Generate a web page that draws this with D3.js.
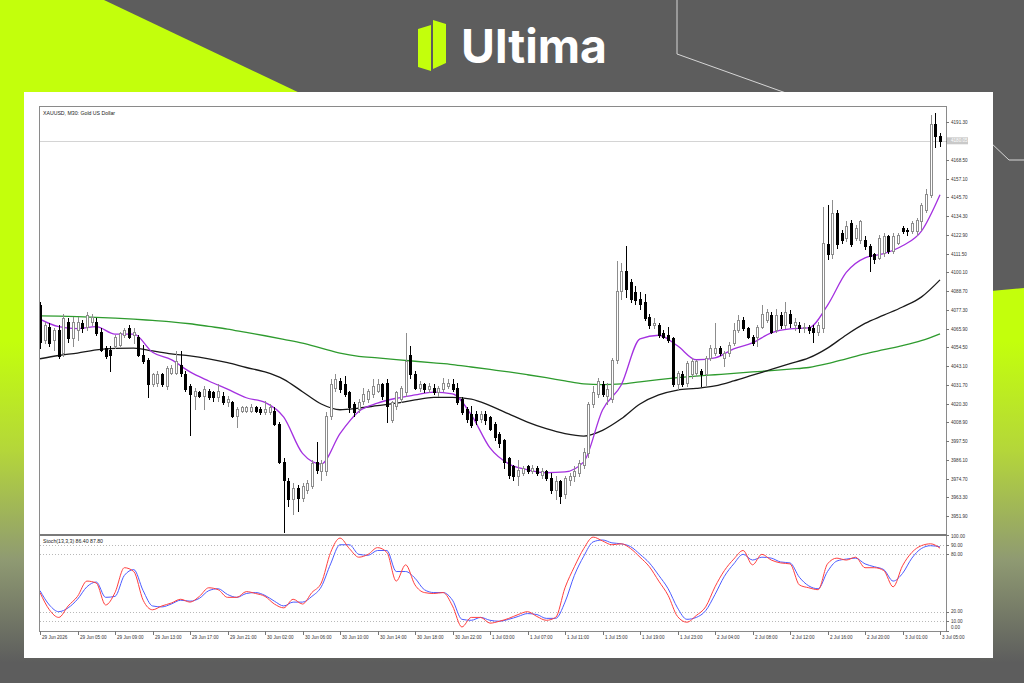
<!DOCTYPE html>
<html><head><meta charset="utf-8">
<script src="https://cdn.jsdelivr.net/npm/d3@7"></script>
<style>html,body{margin:0;padding:0;background:#5d5d5d;}svg{display:block}</style>
</head><body>
<svg id="c" width="1024" height="683"></svg>
<script>
// ---------- DATA ----------
const symbolTitle = "XAUUSD, M30:  Gold US Dollar";
const stochTitle = "Stoch(13,3,3) 86.40 87.80";
const currentPrice = 4180.05;
// candles: [open, high, low, close], one per 30-minute bar
const candles = [
[4080,4082,4054,4058],[4059,4070,4057,4068],[4067,4069,4055,4057],[4059,4066,4053,4065],[4065,4068,4048,4049],
[4051,4075,4049,4072],[4070,4072,4058,4060],[4060,4073,4055,4070],[4065,4073,4059,4070],[4069,4071,4064,4066],
[4067,4076,4065,4074],[4070,4075,4068,4073],[4070,4072,4062,4063],[4064,4066,4052,4053],[4054,4055,4048,4049],
[4053,4055,4040,4050],[4055,4062,4054,4061],[4056,4064,4055,4063],[4062,4066,4061,4065],[4066,4068,4060,4061],
[4062,4066,4057,4064],[4061,4062,4049,4050],[4050,4056,4045,4046],[4047,4048,4024,4032],[4032,4039,4031,4038],
[4033,4040,4031,4038],[4038,4039,4031,4032],[4031,4043,4029,4042],[4039,4044,4038,4042],[4039,4052,4038,4046],
[4044,4052,4037,4039],[4038,4040,4028,4029],[4031,4032,4001,4026],[4025,4030,4017,4028],[4027,4028,4024,4025],
[4025,4031,4017,4029],[4028,4029,4023,4024],[4027,4028,4022,4024],[4024,4032,4022,4028],[4025,4027,4020,4021],
[4021,4025,4019,4023],[4021,4022,4012,4013],[4013,4018,4006,4017],[4016,4019,4015,4018],[4016,4019,4015,4018],
[4016,4020,4015,4018],[4018,4019,4015,4016],[4017,4018,4014,4015],[4015,4022,4014,4017],[4015,4020,4014,4018],
[4016,4018,4007,4008],[4008,4009,3984,3985],[3985,3987,3942,3974],[3973,3975,3958,3962],[3962,3972,3953,3969],
[3969,3971,3955,3963],[3963,3972,3961,3970],[3968,3974,3966,3972],[3970,3986,3969,3984],[3985,3997,3978,3980],
[3979,3986,3974,3984],[3979,4015,3977,4013],[4013,4035,4011,4032],[4030,4038,4028,4035],[4034,4036,4027,4029],
[4032,4037,4025,4026],[4027,4028,4015,4018],[4020,4021,4013,4015],[4017,4023,4015,4021],[4022,4030,4020,4026],
[4023,4029,4021,4028],[4026,4035,4024,4031],[4028,4035,4027,4032],[4032,4033,4023,4025],[4033,4035,4009,4019],
[4010,4022,4009,4021],[4019,4028,4017,4027],[4023,4031,4021,4030],[4027,4063,4025,4046],[4050,4055,4036,4038],
[4038,4040,4029,4030],[4030,4034,4028,4032],[4032,4033,4027,4029],[4029,4033,4027,4031],[4030,4032,4026,4027],
[4027,4031,4025,4030],[4029,4036,4028,4033],[4031,4035,4030,4033],[4032,4035,4028,4029],[4030,4033,4020,4021],
[4023,4024,4014,4015],[4017,4018,4009,4011],[4014,4019,4006,4007],[4014,4016,4008,4010],[4011,4016,4009,4014],
[4014,4016,4008,4010],[4012,4013,4004,4005],[4008,4009,3998,4000],[4002,4003,3994,3996],[3998,3999,3981,3985],
[3987,3988,3975,3977],[3982,3983,3974,3976],[3976,3986,3971,3980],[3978,3982,3977,3981],[3982,3983,3978,3979],
[3979,3983,3978,3981],[3981,3982,3977,3978],[3977,3981,3975,3979],[3979,3980,3974,3975],[3975,3978,3966,3968],
[3968,3976,3962,3973],[3973,3974,3960,3964],[3965,3976,3963,3975],[3974,3978,3971,3976],[3976,3982,3973,3979],
[3978,3986,3976,3984],[3983,3993,3981,3991],[3990,4021,3988,4020],[4020,4031,4018,4027],[4026,4036,4024,4034],
[4032,4034,4025,4026],[4025,4033,4020,4029],[4023,4048,4021,4047],[4047,4107,4045,4089],[4089,4106,4084,4101],
[4101,4116,4085,4090],[4094,4096,4082,4084],[4088,4092,4081,4083],[4084,4088,4078,4081],[4082,4087,4071,4072],
[4073,4075,4066,4068],[4068,4072,4066,4069],[4068,4069,4061,4062],[4063,4065,4060,4061],[4062,4067,4058,4059],
[4060,4061,4031,4032],[4032,4040,4029,4039],[4038,4040,4031,4032],[4033,4046,4031,4045],[4038,4048,4036,4046],
[4039,4047,4037,4046],[4040,4041,4031,4038],[4038,4049,4031,4048],[4048,4056,4047,4054],[4051,4069,4050,4054],
[4054,4055,4050,4051],[4048,4052,4043,4051],[4051,4058,4049,4056],[4057,4069,4056,4065],[4065,4074,4064,4071],
[4071,4073,4065,4066],[4066,4067,4060,4061],[4061,4062,4056,4057],[4061,4068,4055,4067],[4067,4080,4066,4075],
[4071,4078,4070,4076],[4074,4076,4063,4064],[4065,4078,4064,4074],[4074,4076,4066,4068],[4068,4082,4066,4076],
[4075,4077,4067,4069],[4068,4072,4065,4070],[4068,4070,4064,4066],[4066,4069,4064,4067],[4067,4068,4063,4065],
[4066,4068,4058,4064],[4064,4070,4062,4068],[4066,4140,4064,4118],[4117,4141,4108,4111],[4111,4144,4109,4136],
[4136,4138,4115,4117],[4124,4126,4118,4120],[4121,4131,4119,4128],[4130,4132,4116,4117],[4121,4129,4120,4127],
[4120,4132,4118,4131],[4120,4122,4114,4116],[4116,4117,4101,4110],[4111,4112,4106,4108],[4109,4123,4108,4121],
[4112,4124,4110,4122],[4122,4123,4112,4113],[4113,4124,4112,4122],[4118,4124,4117,4123],[4127,4128,4124,4125],
[4126,4127,4123,4125],[4125,4131,4124,4130],[4125,4133,4123,4132],[4131,4142,4126,4141],[4138,4151,4137,4148],
[4147,4196,4146,4190],[4190,4197,4176,4183],[4183,4185,4177,4180.05]
];
// moving averages, one value every 4 bars
const maStep = 4;
const fastMA = [4071.6,4067,4065.8,4067,4062.5,4062.5,4051.5,4047,4039.5,4034,4029,4023.8,4021,4012,3990,3983.5,4002,4015.5,4020.5,4023.5,4025.5,4027.2,4026.2,4013.4,3993.3,3983.6,3980,3978.2,3978.7,3984.8,4016.4,4031.6,4059.6,4061.8,4055.4,4046.9,4048.1,4053.5,4057.2,4063.3,4065.7,4066.3,4080,4100,4108.9,4111.4,4116.2,4125,4147.3];
const midMA = [4047.5,4049.5,4051,4052.9,4053.8,4054,4052.3,4050.5,4049.3,4047.5,4045.2,4042.2,4039.5,4035,4027.5,4020,4016.5,4017.5,4019,4020.5,4022.5,4024,4024,4023,4019,4014,4009,4005,4002,4000.5,4004,4011,4020,4025.5,4028.5,4029.5,4031,4034,4037.5,4041,4044.5,4048,4054,4062,4069,4074,4079,4085,4095.5];
const slowMA = [4073.6,4073.4,4073.1,4072.7,4072.2,4071.6,4070.8,4070,4068.8,4067.2,4065.6,4063.5,4061.5,4059.3,4057,4054,4051,4049,4048,4047,4046,4045,4044,4042.5,4041,4039.5,4037.8,4036,4034,4032.2,4031.8,4032.2,4033.5,4034.8,4036,4037,4037.8,4038.6,4039.5,4040.3,4041.2,4042.2,4044.5,4047.5,4050.5,4053,4055.5,4058.5,4062.7];
// stochastic, one value every 2 bars
const stochStep = 2;
const stochMain = [40,22,14,26,36,52,50,27,40,66,62,32,22,26,29,33,30,36,45,43,35,35,41,39,36,28,24,33,28,40,50,82,97,86,77,80,87,82,52,69,48,40,39,40,26,4,14,14,8,10,13,17,20,15,11,14,45,67,86,98,94,90,91,86,77,67,52,37,15,9,16,25,46,63,75,84,69,80,74,71,70,48,45,43,70,76,74,77,66,66,63,46,68,82,89,91,86.4];
const stochSignal = [42,27,20,24,33,46,51,35,36,58,64,42,26,25,28,32,31,34,42,44,38,35,39,40,37,31,26,30,30,36,46,70,90,90,80,79,84,84,62,62,55,43,40,40,32,12,11,14,11,10,12,15,18,17,13,13,30,58,78,93,95,92,91,88,80,71,58,44,24,12,14,21,38,57,70,80,74,77,76,72,71,56,47,44,62,73,75,76,70,67,64,52,60,76,86,89,87.8];
const stochLevels = [10,20,80,90];
const stochAxisLabels = ["100.00","90.00","80.00","20.00","10.00","0.00"];
const priceTicks = d3.range(22).map(k => 3951.9 + 11.4*k);
const timeLabels = ["29 Jun 2026","29 Jun 05:00","29 Jun 09:00","29 Jun 13:00","29 Jun 17:00","29 Jun 21:00","30 Jun 02:00","30 Jun 06:00","30 Jun 10:00","30 Jun 14:00","30 Jun 18:00","30 Jun 22:00","1 Jul 03:00","1 Jul 07:00","1 Jul 11:00","1 Jul 15:00","1 Jul 19:00","1 Jul 23:00","2 Jul 04:00","2 Jul 08:00","2 Jul 12:00","2 Jul 16:00","2 Jul 20:00","3 Jul 01:00","3 Jul 05:00"];
const barsPerLabel = 8;

// ---------- DRAW ----------
const svg = d3.select("#c");
const W = 1024, H = 683;
const LIME = "#c3ff0c", GRAY = "#5d5d5d";

const defs = svg.append("defs");
const grad = defs.append("linearGradient").attr("id","limeGrad")
  .attr("gradientUnits","userSpaceOnUse").attr("x1",0).attr("y1",0).attr("x2",0).attr("y2",H);
[[0,LIME],[0.5,LIME],[0.66,"#b4d63a"],[0.82,"#8f9a72"],[0.97,GRAY],[1,GRAY]]
  .forEach(s => grad.append("stop").attr("offset",s[0]).attr("stop-color",s[1]));

svg.append("rect").attr("width",W).attr("height",H).attr("fill",GRAY);
svg.append("polygon").attr("points","0,0 104,0 420,150 420,683 0,683").attr("fill","url(#limeGrad)");
svg.append("polygon").attr("points","980,292 1024,288 1024,683 980,683").attr("fill","url(#limeGrad)");
// decorative thin lines
svg.append("polyline").attr("points","677,0 677,54 800,98").attr("fill","none").attr("stroke","#d6d6d6").attr("stroke-width",1);
svg.append("polyline").attr("points","990,142 1009,160 1024,160").attr("fill","none").attr("stroke","#d6d6d6").attr("stroke-width",1);

// logo
const logo = svg.append("g");
logo.append("polygon").attr("points","418,29 431,25 431,71 418,67").attr("fill",LIME);
logo.append("polygon").attr("points","433,20 446,24 446,63 433,69").attr("fill",LIME);
logo.append("text").attr("x",461).attr("y",63).attr("font-family","Inter, 'Open Sans', sans-serif")
  .attr("font-weight",700).attr("font-size",47).attr("fill","#ffffff").attr("textLength",146)
  .attr("lengthAdjust","spacingAndGlyphs").text("Ultima");

// white panel
svg.append("rect").attr("x",24).attr("y",92).attr("width",969).attr("height",566).attr("fill","#ffffff");

// scales
const L = 40, R = 946, T = 107, MB = 534, SB = 631;
const x = d3.scaleLinear().domain([0,192]).range([40,940]);
const y = d3.scaleLinear().domain([3951.9,4191.3]).range([516,122.3]);
const ys = d3.scaleLinear().domain([0,100]).range([630.8,535.2]);
const px = v => Math.round(v) + 0.5;

defs.append("clipPath").attr("id","clipMain").append("rect").attr("x",L).attr("y",T).attr("width",R-L).attr("height",MB-T-1);
defs.append("clipPath").attr("id","clipStoch").append("rect").attr("x",L).attr("y",MB+1).attr("width",R-L).attr("height",SB-MB-1);

// current price line
svg.append("line").attr("x1",L).attr("x2",R).attr("y1",px(y(currentPrice))).attr("y2",px(y(currentPrice)))
  .attr("stroke","#d4d4d4").attr("stroke-width",1);

const main = svg.append("g").attr("clip-path","url(#clipMain)");

// moving averages
const maLine = d3.line().x((d,i)=>x(i*maStep)).y(d=>y(d)).curve(d3.curveMonotoneX);
main.append("path").datum(slowMA).attr("d",maLine).attr("fill","none").attr("stroke","#2e9b2e").attr("stroke-width",1.3);
main.append("path").datum(midMA).attr("d",maLine).attr("fill","none").attr("stroke","#1a1a1a").attr("stroke-width",1.3);
main.append("path").datum(fastMA).attr("d",maLine).attr("fill","none").attr("stroke","#a431e0").attr("stroke-width",1.3);

// candles
const cg = main.append("g").attr("shape-rendering","crispEdges");
const bars = cg.selectAll("g").data(candles).join("g");
bars.append("line")
  .attr("x1",(d,i)=>px(x(i))).attr("x2",(d,i)=>px(x(i)))
  .attr("y1",d=>Math.round(y(d[1]))).attr("y2",d=>Math.round(y(d[2]))+1)
  .attr("stroke",d=>d[3]>=d[0]?"#8d8d8d":"#000").attr("stroke-width",1);
bars.each(function(d,i){
  const g = d3.select(this);
  const cx = px(x(i));
  const top = Math.round(y(Math.max(d[0],d[3])));
  const bot = Math.round(y(Math.min(d[0],d[3])));
  if (d[3] >= d[0]) {
    g.append("rect").attr("x",cx-1).attr("y",top+0.5).attr("width",2).attr("height",Math.max(1,bot-top))
      .attr("fill","#fff").attr("stroke","#8d8d8d").attr("stroke-width",1);
  } else {
    g.append("rect").attr("x",cx-1.5).attr("y",top).attr("width",3).attr("height",Math.max(1,bot-top+1))
      .attr("fill","#000");
  }
});

// stochastic
const stg = svg.append("g").attr("clip-path","url(#clipStoch)");
stochLevels.forEach(v=>{
  stg.append("line").attr("x1",L).attr("x2",R).attr("y1",px(ys(v))).attr("y2",px(ys(v)))
    .attr("stroke","#b8b8b8").attr("stroke-width",1).attr("stroke-dasharray","1,2");
});
const stLine = d3.line().x((d,i)=>x(i*stochStep)).y(d=>ys(d)).curve(d3.curveMonotoneX);
stg.append("path").datum(stochSignal).attr("d",stLine).attr("fill","none").attr("stroke","#4d5cff").attr("stroke-width",1);
stg.append("path").datum(stochMain).attr("d",stLine).attr("fill","none").attr("stroke","#ff4040").attr("stroke-width",1);

// frames
const frame = svg.append("g").attr("shape-rendering","crispEdges");
frame.append("rect").attr("x",L-0.5).attr("y",T-0.5).attr("width",R-L+1).attr("height",SB-T+1)
  .attr("fill","none").attr("stroke","#8a8a8a");
frame.append("rect").attr("x",L-0.5).attr("y",MB-0.5).attr("width",R-L+1).attr("height",2).attr("fill","#7a7a7a");

// price axis
const fontF = "'Liberation Sans', Arial, sans-serif";
const pa = svg.append("g");
priceTicks.forEach(v=>{
  const yy = px(y(v));
  pa.append("line").attr("x1",R).attr("x2",R+3).attr("y1",yy).attr("y2",yy).attr("stroke","#777").attr("shape-rendering","crispEdges");
  pa.append("text").attr("x",R+5).attr("y",yy+1.6).attr("font-family",fontF).attr("font-size",4.6)
    .attr("fill","#333").text(v.toFixed(2));
});
const cpY = y(currentPrice);
pa.append("rect").attr("x",R+1).attr("y",cpY-3.5).attr("width",21).attr("height",7).attr("fill","#c9c9c9");
pa.append("text").attr("x",R+5).attr("y",cpY+1.6).attr("font-family",fontF).attr("font-size",4.6)
  .attr("fill","#fff").text(currentPrice.toFixed(2));

// stoch axis
const sa = svg.append("g");
const stochLabelY = [536.5,545,554.3,611.7,621.2,627.5];
[100,90,80,20,10,0].forEach((v,k)=>{
  const yy = px(ys(v));
  sa.append("line").attr("x1",R).attr("x2",R+3).attr("y1",yy).attr("y2",yy).attr("stroke","#777").attr("shape-rendering","crispEdges");
  sa.append("text").attr("x",R+5).attr("y",stochLabelY[k]+1.6).attr("font-family",fontF).attr("font-size",4.6)
    .attr("fill","#333").text(stochAxisLabels[k]);
});

// time axis
const ta = svg.append("g");
timeLabels.forEach((t,k)=>{
  const xx = px(x(k*barsPerLabel));
  ta.append("line").attr("x1",xx).attr("x2",xx).attr("y1",SB).attr("y2",SB+4).attr("stroke","#777").attr("shape-rendering","crispEdges");
  ta.append("text").attr("x",xx+1.5).attr("y",638.5).attr("font-family",fontF).attr("font-size",4.6)
    .attr("fill","#333").text(t);
});

// titles
svg.append("text").attr("x",L+3).attr("y",114.5).attr("font-family",fontF).attr("font-size",5.2)
  .attr("fill","#222").text(symbolTitle);
svg.append("text").attr("x",L+3).attr("y",542.5).attr("font-family",fontF).attr("font-size",5.2)
  .attr("fill","#222").text(stochTitle);
</script>
</body></html>
